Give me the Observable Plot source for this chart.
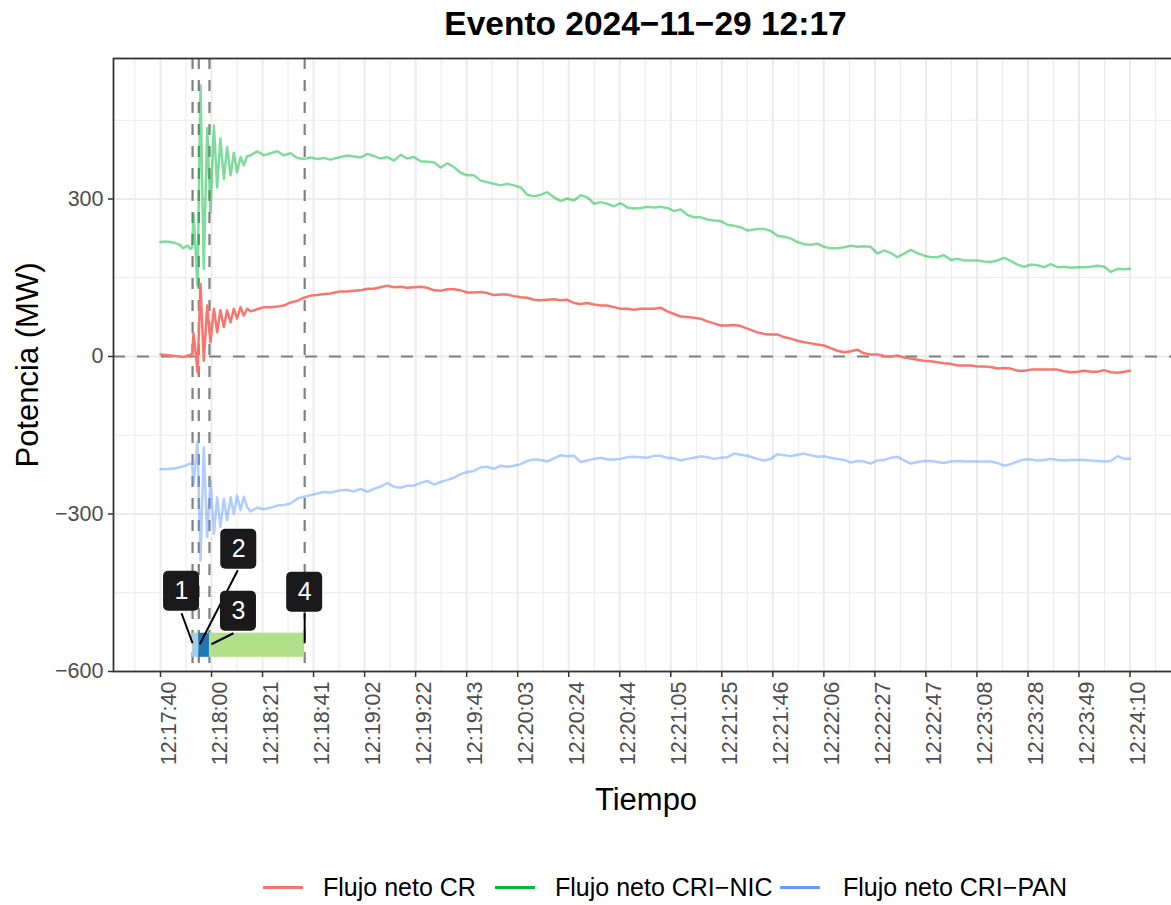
<!DOCTYPE html>
<html>
<head>
<meta charset="utf-8">
<script src="https://cdn.jsdelivr.net/npm/d3@7"></script>
<script src="https://cdn.jsdelivr.net/npm/@observablehq/plot@0.6"></script>
<style>
  html, body { margin: 0; padding: 0; background: #ffffff; overflow: hidden; }
  #wrap { position: relative; width: 1171px; height: 905px; overflow: hidden;
          font-family: "Liberation Sans", Arial, Helvetica, sans-serif; }
  #title { position: absolute; left: 0; top: 0; width: 1291px; height: 48px; line-height: 48px;
           text-align: center; font-weight: bold; font-size: 33.5px; color: #000; }
  #chart { position: absolute; left: 0; top: 44px; width: 1185px; }
  #legend { position: absolute; left: 0; top: 870px; width: 1171px; height: 34px; }
  .key { position: absolute; top: 15.5px; width: 40px; height: 3px; }
  .ltext { position: absolute; top: 2px; height: 30px; line-height: 30px; font-size: 25px; color: #000; white-space: nowrap; }
</style>
</head>
<body>
<div id="wrap">
  <div id="title"></div>
  <div id="chart"></div>
  <div id="legend"></div>
</div>
<script>
// ---------------- data (seconds after 12:17:40) ----------------
const startClock = [2024, 10, 29, 12, 17, 40];
const titleText = "Evento 2024\u221211\u221229 12:17";
const xTitle = "Tiempo";
const yTitle = "Potencia (MW)";

const secs = [
  0,2,4,6,8,9,10,11,12,
  12.7,13.3,14.1,14.9,16.1,17.4,18.8,20.1,21.5,22.8,24.1,25.5,26.8,28.2,29.5,30.8,32.2,33.5,34.9,36.2,
  38.9,41.6,44.3,47.0,49.6,52.3,55.0,57.7,60.4,63.1,65.7,68.4,
  72.4,75.1,77.8,80.5,83.2,85.8,88.5,91.2,93.9,96.6,99.3,101.9,104.6,107.3,110.0,112.7,115.4,118.0,120.7,123.4,
  126.1,128.8,131.5,134.1,136.8,139.5,142.2,144.9,147.5,150.2,152.9,155.6,158.3,161.0,163.6,166.3,169.0,171.7,
  174.4,177.1,179.7,182.4,185.1,187.8,190.5,193.2,195.8,198.5,201.2,203.9,206.6,209.3,211.9,214.6,217.3,220.0,
  222.7,225.3,228.0,230.7,233.4,236.1,
  240.1,242.8,245.5,248.2,250.8,253.5,256.2,258.9,261.6,264.2,266.9,269.6,272.3,275.0,277.7,280.3,283.0,285.7,
  288.4,291.1,293.8,296.4,299.1,301.8,304.5,307.2,309.9,312.5,315.2,317.9,320.6,323.3,325.9,328.6,331.3,334.0,
  336.7,339.4,342.0,344.7,347.4,350.1,352.8,355.5,358.1,360.8,363.5,366.2,368.9,371.6,374.2,376.9,379.6,382.3,
  385.0,387.7,390.0
];

const crValues = [
  4,3,2,1,0,-1,0,2,3,
  5,44,10,-30,138,-8,97,27,91,46,88,56,88,65,91,72,94,78,91,86,
  90,94,94,95,97,103,106,112,116,117,119,120,
  124,124,125,126,129,129,132,135,132,133,131,132,133,131,126,125,128,128,126,122,
  122,123,121,117,118,118,115,113,112,108,107,108,109,107,108,102,100,102,99,97,
  97,94,91,91,89,91,91,91,93,86,81,76,75,74,72,67,63,59,59,60,58,53,
  46,43,42,42,37,34,30,27,25,23,21,16,11,8,10,13,6,4,4,1,
  0,2,-2,-4,-6,-8,-9,-11,-13,-14,-17,-17,-17,-19,-19,-20,-23,-22,-23,-27,
  -27,-25,-25,-25,-25,-25,-28,-30,-29,-27,-29,-29,-26,-30,-31,-29,-27
];

const nicValues = [
  218,219,218,216,212,206,209,211,205,
  207,272,205,135,516,167,435,275,440,322,415,338,399,345,388,351,380,364,382,383,
  391,383,387,391,383,387,378,376,379,376,378,375,
  380,383,381,379,386,382,377,380,373,384,377,380,372,371,370,360,368,361,350,345,
  345,335,332,329,326,329,326,322,308,305,308,313,303,296,301,297,307,303,291,294,
  291,286,292,284,282,283,285,284,285,283,277,280,270,265,265,261,259,258,251,249,246,240,
  243,243,239,230,228,225,218,214,213,215,209,206,206,208,211,209,210,209,196,202,
  197,189,196,203,197,192,189,189,193,184,186,183,183,183,181,180,183,188,182,175,
  171,175,174,170,176,170,171,169,170,170,171,173,171,161,167,166,167
];

const panValues = [
  -215,-215,-214,-213,-211,-209,-208,-206,-204,
  -204,-243,-201,-163,-389,-173,-344,-236,-338,-268,-325,-271,-312,-268,-300,-265,-293,-267,-287,-295,
  -288,-291,-288,-284,-283,-280,-271,-267,-264,-261,-258,-259,
  -255,-254,-257,-252,-258,-252,-248,-241,-248,-250,-246,-246,-241,-237,-244,-239,-235,-231,-224,-220,
  -218,-211,-210,-214,-208,-210,-208,-205,-199,-196,-197,-200,-194,-188,-190,-189,-201,-198,-195,-193,
  -196,-196,-195,-192,-191,-192,-193,-189,-189,-193,-194,-198,-195,-193,-190,-192,-195,-193,-192,-185,-187,-189,
  -195,-198,-195,-186,-188,-190,-187,-185,-188,-191,-190,-193,-195,-197,-202,-199,-200,-204,-198,-197,
  -193,-191,-198,-204,-201,-199,-199,-201,-203,-200,-199,-200,-200,-200,-200,-200,-203,-208,-205,-200,
  -196,-196,-198,-197,-195,-197,-198,-197,-197,-197,-198,-199,-200,-199,-190,-195,-195
];

const seriesNames = ["Flujo neto CR", "Flujo neto CRI\u2212NIC", "Flujo neto CRI\u2212PAN"];
const seriesColors = ["#F8766D", "#00BA38", "#619CFF"];

const tickSecs = [0, 20.53, 41.05, 61.58, 82.11, 102.63, 123.16, 143.68, 164.21, 184.74,
                  205.26, 225.79, 246.32, 266.84, 287.37, 307.89, 328.42, 348.95, 369.47, 390];
const tickLabels = ["12:17:40","12:18:00","12:18:21","12:18:41","12:19:02","12:19:22","12:19:43",
                    "12:20:03","12:20:24","12:20:44","12:21:05","12:21:25","12:21:46","12:22:06",
                    "12:22:27","12:22:47","12:23:08","12:23:28","12:23:49","12:24:10"];
const yTicks = [-600, -300, 0, 300];
const yMinorTicks = [-450, -150, 150, 450];

const eventSecs = [12.9, 15.4, 19.7, 58.0];
const eventLabels = ["1", "2", "3", "4"];
const phaseColors = ["#A6CEE3", "#1F78B4", "#B2DF8A"];

// ---------------- layout constants ----------------
const W = 1185, H = 777;
const mL = 113, mR = 7, mT = 14, mB = 150;
const xDom = [-18.9, 409.5];
const yDom = [-600, 567.6];
const pxPerSec = (W - mL - mR) / (xDom[1] - xDom[0]);
const pxPerMW = (H - mT - mB) / (yDom[1] - yDom[0]);
const barMid = -550, barHalf = 23;
const boxW = 36, boxH = 40;
const labelNudge = [[-11, -54], [40, -96], [29, -34], [0, -53]];
const segFrom = [[0, -2], [1, -1], [2, -1], [0, -2]];
const segTo = [[-11, -32], [39, -75], [24, -12], [0, -32]];
const font = "'Liberation Sans', Arial, Helvetica, sans-serif";

// ---------------- helpers ----------------
const t0 = new Date(startClock[0], startClock[1], startClock[2], startClock[3], startClock[4], startClock[5]);
const toDate = s => new Date(t0.getTime() + s * 1000);

const rows = secs.map((s, i) => ({time: toDate(s), cr: crValues[i], nic: nicValues[i], pan: panValues[i]}));
const tickDates = tickSecs.map(toDate);
const labelOf = new Map(tickDates.map((d, i) => [+d, tickLabels[i]]));
const step = tickSecs[1] - tickSecs[0];
const minorSecs = [tickSecs[0] - step / 2, ...d3.pairs(tickSecs).map(([a, b]) => (a + b) / 2), tickSecs[tickSecs.length - 1] + step / 2];
const minorDates = minorSecs.map(toDate);
const eventDates = eventSecs.map(toDate);
const phases = d3.pairs(eventSecs).map(([a, b], i) => ({x1: toDate(a), x2: toDate(b), color: phaseColors[i]}));

const labels = eventSecs.map((s, i) => {
  const cx = s + labelNudge[i][0] / pxPerSec;
  const cy = barMid - labelNudge[i][1] / pxPerMW;
  return {
    text: eventLabels[i],
    cx: toDate(cx), cy,
    bx1: toDate(cx - boxW / 2 / pxPerSec), bx2: toDate(cx + boxW / 2 / pxPerSec),
    by1: cy - boxH / 2 / pxPerMW, by2: cy + boxH / 2 / pxPerMW,
    sx1: toDate(s + segFrom[i][0] / pxPerSec), sy1: barMid - segFrom[i][1] / pxPerMW,
    sx2: toDate(s + segTo[i][0] / pxPerSec), sy2: barMid - segTo[i][1] / pxPerMW
  };
});

document.getElementById("title").textContent = titleText;

const chart = Plot.plot({
  width: W, height: H,
  marginLeft: mL, marginRight: mR, marginTop: mT, marginBottom: mB,
  style: {background: "transparent", color: "#333333", fontFamily: font, maxWidth: "none", overflow: "visible"},
  x: {type: "time", domain: xDom.map(toDate)},
  y: {domain: yDom},
  color: {domain: seriesNames, range: seriesColors},
  marks: [
    Plot.gridX(minorDates, {stroke: "#EBEBEB", strokeOpacity: 1, strokeWidth: 1}),
    Plot.gridY(yMinorTicks, {stroke: "#EBEBEB", strokeOpacity: 1, strokeWidth: 1}),
    Plot.gridX(tickDates, {stroke: "#EBEBEB", strokeOpacity: 1, strokeWidth: 2}),
    Plot.gridY(yTicks, {stroke: "#EBEBEB", strokeOpacity: 1, strokeWidth: 2}),
    Plot.ruleY([0], {stroke: "#808080", strokeWidth: 2.2, strokeDasharray: "12,12"}),
    Plot.ruleX(eventDates, {stroke: "#808080", strokeWidth: 2.2, strokeDasharray: "11,11"}),
    Plot.line(rows, {x: "time", y: "pan", stroke: () => seriesNames[2], strokeOpacity: 0.5, strokeWidth: 2.5}),
    Plot.line(rows, {x: "time", y: "nic", stroke: () => seriesNames[1], strokeOpacity: 0.5, strokeWidth: 2.5}),
    Plot.line(rows, {x: "time", y: "cr", stroke: () => seriesNames[0], strokeOpacity: 1, strokeWidth: 2.5}),
    ...phases.map(p => Plot.rect([p], {x1: "x1", x2: "x2", y1: barMid - barHalf, y2: barMid + barHalf, fill: p.color})),
    Plot.link(labels, {x1: "sx1", y1: "sy1", x2: "sx2", y2: "sy2", stroke: "#000000", strokeWidth: 2}),
    Plot.rect(labels, {x1: "bx1", x2: "bx2", y1: "by1", y2: "by2", rx: 5, fill: "#1A1A1A"}),
    Plot.text(labels, {x: "cx", y: "cy", text: "text", fill: "#FFFFFF", fontSize: 25, fontFamily: font}),
    Plot.frame({stroke: "#333333", strokeWidth: 1.8}),
    Plot.axisY({ticks: yTicks, tickSize: 5, tickPadding: 5, fontSize: 21.5, fill: "#4D4D4D", strokeWidth: 1.5, label: null}),
    Plot.axisX({ticks: tickDates, tickFormat: d => labelOf.get(+d), tickRotate: -90, tickSize: 6, tickPadding: 4,
                lineAnchor: "top", fontSize: 21.5, fill: "#4D4D4D", strokeWidth: 1.5, label: null}),
    Plot.text([xTitle], {text: d => d, frameAnchor: "bottom", textAnchor: "middle", dy: 138, fontSize: 31, fill: "#000000", fontFamily: font}),
    Plot.text([yTitle], {text: d => d, frameAnchor: "left", textAnchor: "middle", rotate: -90, dx: -85, fontSize: 31, fill: "#000000", fontFamily: font})
  ]
});
document.getElementById("chart").appendChild(chart);

// ---------------- legend ----------------
const keyLeft = [263, 495, 780];
const textLeft = [323, 555, 843];
const legend = document.getElementById("legend");
seriesNames.forEach((name, i) => {
  const k = document.createElement("div");
  k.className = "key";
  k.style.left = keyLeft[i] + "px";
  k.style.background = seriesColors[i];
  legend.appendChild(k);
  const t = document.createElement("div");
  t.className = "ltext";
  t.style.left = textLeft[i] + "px";
  t.textContent = name;
  legend.appendChild(t);
});
</script>
</body>
</html>
